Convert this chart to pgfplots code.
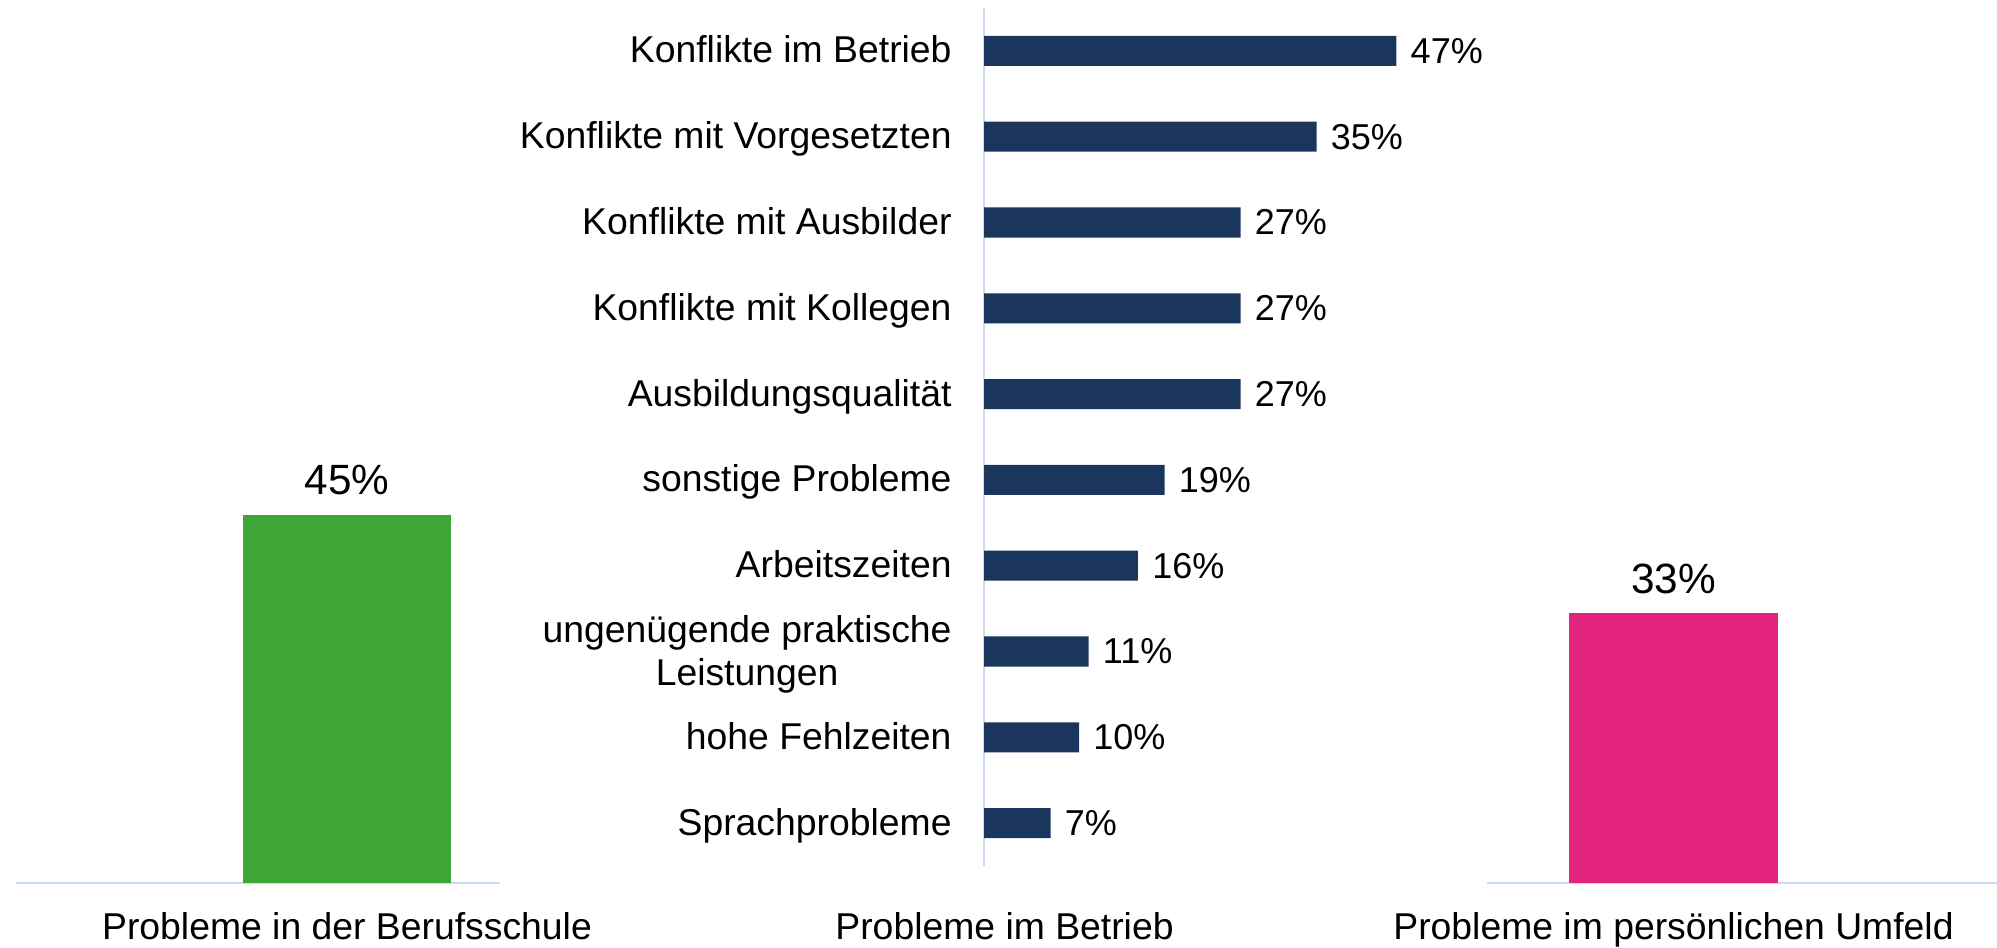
\documentclass[border=0pt]{standalone}
\usepackage{pgfplots}
\pgfplotsset{compat=1.18}
\usepackage{fontspec}
\setmainfont{Liberation Sans}
\definecolor{navy}{HTML}{1A365D}
\definecolor{grn}{HTML}{3FA535}
\definecolor{pnk}{HTML}{E3247F}
\definecolor{axl}{HTML}{CCDCF0}
\begin{document}
\begin{tikzpicture}[font=\fontsize{11.2}{12.9}\selectfont]
\useasboundingbox (0,0) rectangle (599.1pt,284.1pt);
\pgfplotsset{every axis/.append style={font=\fontsize{11.2}{12.9}\selectfont}}
% left panel
\begin{axis}[at={(4.8pt,19.2pt)}, anchor=south west, scale only axis,
  width=145.2pt, height=122.7pt,
  xmin=-331, xmax=153, ymin=0, ymax=50,
  ybar, bar width=62.4pt,
  axis x line*=bottom, axis y line=none,
  x axis line style={draw=axl, line width=0.7pt},
  xtick={0}, xticklabels={Probleme in der Berufsschule},
  major tick length=0pt, ytick=\empty,
  xticklabel style={anchor=base, yshift=-16.8pt},
  nodes near coords, point meta=explicit symbolic,
  nodes near coords style={font=\fontsize{12.7}{15}\selectfont, anchor=base, yshift=6pt},
  clip=false]
\addplot[fill=grn, draw=none] coordinates {(0,45) [45\%]};
\end{axis}
% middle panel
\begin{axis}[at={(295.2pt,24.3pt)}, anchor=south west, scale only axis,
  width=142.5pt, height=257.4pt,
  xmin=0, xmax=50, ymin=-0.5, ymax=9.5, y dir=reverse,
  xbar, bar width=0.35,
  axis y line*=left, axis x line=none,
  y axis line style={draw=axl, line width=0.7pt},
  ytick={0,...,9},
  yticklabels={Konflikte im Betrieb, Konflikte mit Vorgesetzten, Konflikte mit Ausbilder, Konflikte mit Kollegen, Ausbildungsqualität, sonstige Probleme, Arbeitszeiten, {\raisebox{6.3pt}{\begin{tabular}[t]{@{}c@{}}ungenügende praktische\\Leistungen\end{tabular}}}, hohe Fehlzeiten, Sprachprobleme},
  major tick length=0pt, xtick=\empty,
  yticklabel style={anchor=base east, yshift=-3.6pt, xshift=-6.2pt},
  nodes near coords, point meta=explicit symbolic,
  nodes near coords style={font=\fontsize{10.8}{12.9}\selectfont, anchor=west, xshift=0.8pt},
  clip=false]
\addplot[fill=navy, draw=none] coordinates {
  (43.4,0) [47\%]
  (35,1) [35\%]
  (27,2) [27\%]
  (27,3) [27\%]
  (27,4) [27\%]
  (19,5) [19\%]
  (16.2,6) [16\%]
  (11,7) [11\%]
  (10,8) [10\%]
  (7,9) [7\%]
};
\end{axis}
\node[anchor=base] at (301.35pt,2.4pt) {Probleme im Betrieb};
% right panel
\begin{axis}[at={(446.1pt,19.2pt)}, anchor=south west, scale only axis,
  width=153pt, height=122.7pt,
  xmin=-186.5, xmax=323.5, ymin=0, ymax=50,
  ybar, bar width=62.7pt,
  axis x line*=bottom, axis y line=none,
  x axis line style={draw=axl, line width=0.7pt},
  xtick={0}, xticklabels={Probleme im persönlichen Umfeld},
  major tick length=0pt, ytick=\empty,
  xticklabel style={anchor=base, yshift=-16.8pt},
  nodes near coords, point meta=explicit symbolic,
  nodes near coords style={font=\fontsize{12.7}{15}\selectfont, anchor=base, yshift=6pt},
  clip=false]
\addplot[fill=pnk, draw=none] coordinates {(0,33) [33\%]};
\end{axis}
\end{tikzpicture}
\end{document}
